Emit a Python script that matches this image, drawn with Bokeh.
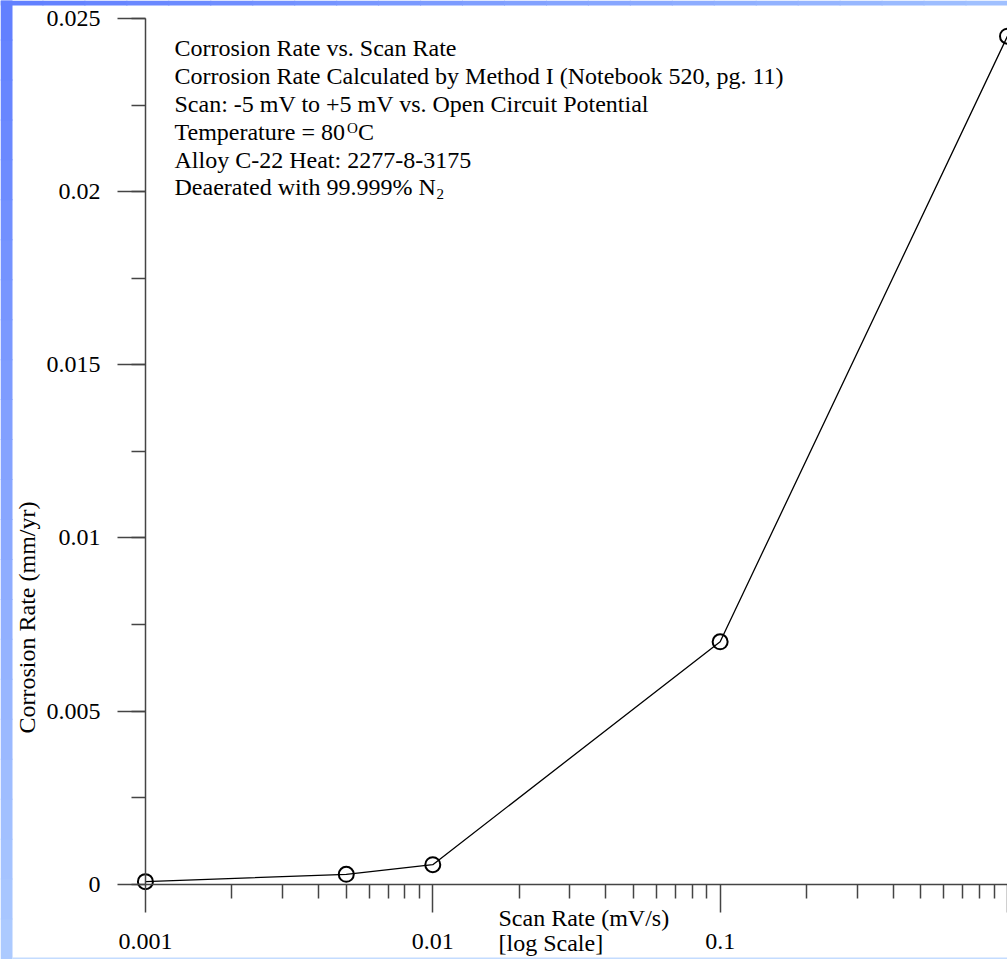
import math
from bokeh.plotting import figure
from bokeh.models import (FixedTicker, SingleIntervalTicker, CustomJSTickFormatter,
                          Label, Range1d, BoxAnnotation)
from bokeh.embed import file_html
from bokeh.resources import INLINE

# ---- data ----
scan_rate = [0.001, 0.005, 0.01, 0.1, 1.0]                      # mV/s
corrosion_rate = [0.00007, 0.00028, 0.00056, 0.0070, 0.0245]    # mm/yr

x_major_ticks = [0.001, 0.01, 0.1, 1.0]
x_minor_ticks = [0.002, 0.003, 0.004, 0.005, 0.006, 0.007, 0.008, 0.009,
                 0.02, 0.03, 0.04, 0.05, 0.06, 0.07, 0.08, 0.09,
                 0.2, 0.3, 0.4, 0.5, 0.6, 0.7, 0.8, 0.9]

info_lines = [
    "Corrosion Rate vs. Scan Rate",
    "Corrosion Rate Calculated by Method I (Notebook 520, pg. 11)",
    "Scan: -5 mV to +5 mV vs. Open Circuit Potential",
    "Temperature = 80",
    "Alloy C-22 Heat: 2277-8-3175",
    "Deaerated with 99.999% N",
]
x_title = ["Scan Rate (mV/s)", "[log Scale]"]
y_title = "Corrosion Rate (mm/yr)"

FONT = "Liberation Serif"
FS = "24px"
W, H = 1007, 959

# the frame fills the whole canvas; axes are placed at x=0.001 / y=0
p = figure(width=W, height=H, x_axis_type="log",
           x_range=Range1d(0.0003131, 1.0), y_range=Range1d(-0.00218, 0.02553),
           output_backend="svg", toolbar_location=None,
           min_border_left=0, min_border_right=0,
           min_border_top=0, min_border_bottom=0)
p.background_fill_color = "white"
p.border_fill_color = "white"
p.outline_line_color = None
p.grid.visible = False

AX = "#444444"
for ax in (p.xaxis[0], p.yaxis[0]):
    ax.axis_line_color = AX
    ax.axis_line_width = 1.5
    ax.major_tick_line_color = AX
    ax.major_tick_line_width = 1.5
    ax.minor_tick_line_color = AX
    ax.minor_tick_line_width = 1.5
    ax.major_tick_in = 0
    ax.major_tick_out = 28
    ax.minor_tick_in = 0
    ax.minor_tick_out = 14
    ax.major_label_text_font = FONT
    ax.major_label_text_font_size = FS
    ax.major_label_text_color = "black"

p.xaxis[0].fixed_location = 0
p.xaxis[0].bounds = (0.001, 1.0)
p.xaxis[0].major_label_standoff = 22
p.xaxis[0].ticker = FixedTicker(ticks=x_major_ticks, minor_ticks=x_minor_ticks)
p.xaxis[0].formatter = CustomJSTickFormatter(code="return tick >= 1 ? '' : tick.toString();")

p.yaxis[0].fixed_location = 0.001
p.yaxis[0].bounds = (0, 0.025)
p.yaxis[0].major_label_standoff = 17
p.yaxis[0].ticker = SingleIntervalTicker(interval=0.005, num_minor_ticks=2)
p.yaxis[0].formatter = CustomJSTickFormatter(code="return parseFloat(tick.toFixed(4)).toString();")

p.line(scan_rate, corrosion_rate, line_color="black", line_width=1.3)
p.scatter(scan_rate, corrosion_rate, marker="circle", size=15,
          line_color="black", line_width=2, fill_color=None)

def lab(text, x, y, size=FS, **kw):
    p.add_layout(Label(x=x, y=y, x_units="screen", y_units="screen", text=text,
                       text_font=FONT, text_font_size=size, text_color="black",
                       text_baseline="alphabetic", **kw))

# screen units: x from left, y up from bottom of the canvas
SHIFT = 9
base0 = H - 56.6 + SHIFT
step = 27.86
for i, t in enumerate(info_lines):
    lab(t, 174, base0 - i * step)
lab("O", 174 + 172.5, base0 - 3 * step + 4, size="15px")
lab("C", 174 + 183.5, base0 - 3 * step)
lab("2", 174 + 262, base0 - 5 * step - 7, size="15px")

lab(x_title[0], 498, H - 926 + SHIFT)
lab(x_title[1], 498, H - 951 + SHIFT)

p.add_layout(Label(x=26, y=H - 617, x_units="screen", y_units="screen", text=y_title,
                   angle=math.pi / 2, text_align="center", text_baseline="middle",
                   text_font=FONT, text_font_size=FS, text_color="black"))

# decorative blue slide frame (left, top and bottom strips)
def mix(c0, c1, t):
    return "#%02x%02x%02x" % tuple(int(a + (b - a) * t) for a, b in zip(c0, c1))

N = 24
for i in range(N):
    t = i / (N - 1)
    p.add_layout(BoxAnnotation(left=0, right=12, bottom=i * H / N, top=(i + 1) * H / N + 1,
                               left_units="screen", right_units="screen",
                               bottom_units="screen", top_units="screen",
                               fill_color=mix((172, 202, 255), (98, 128, 255), t),
                               fill_alpha=1, line_color=None))
    p.add_layout(BoxAnnotation(left=i * W / N, right=(i + 1) * W / N + 1, bottom=H - 5, top=H,
                               left_units="screen", right_units="screen",
                               bottom_units="screen", top_units="screen",
                               fill_color=mix((98, 128, 255), (160, 192, 255), t),
                               fill_alpha=1, line_color=None))
p.add_layout(BoxAnnotation(left=12, right=W, bottom=0, top=2,
                           left_units="screen", right_units="screen",
                           bottom_units="screen", top_units="screen",
                           fill_color="#c4dcff", fill_alpha=1, line_color=None))

open("out.html", "w").write(file_html(p, INLINE))
